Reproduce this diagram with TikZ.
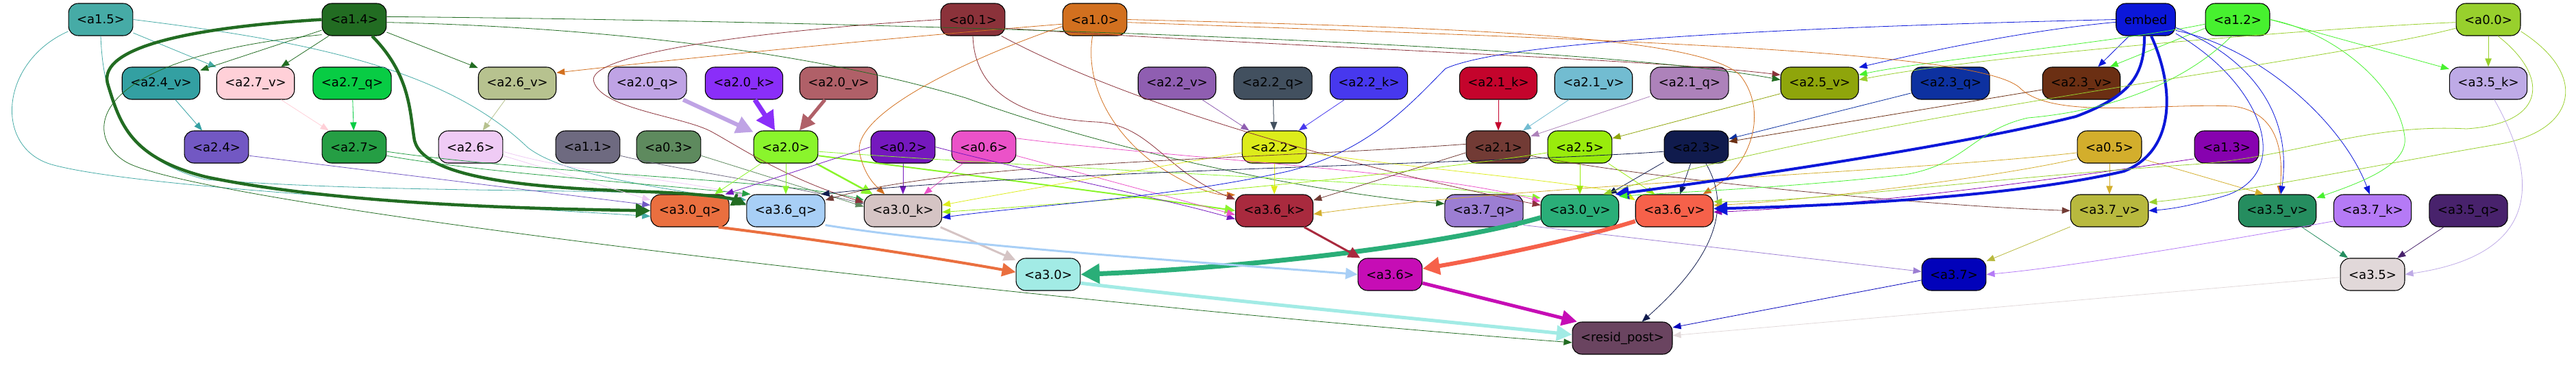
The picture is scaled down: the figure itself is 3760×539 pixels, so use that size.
\documentclass[tikz,border=0pt]{standalone}
\usepackage{fontspec}
\setmainfont{DejaVu Sans}
\usetikzlibrary{arrows.meta}
\definecolor{ca15}{HTML}{46ABA6}\definecolor{ca14}{HTML}{226C22}\definecolor{ca01}{HTML}{8B323A}
\definecolor{ca10}{HTML}{D2701F}\definecolor{cemb}{HTML}{0B17D9}\definecolor{ca12}{HTML}{47F12F}
\definecolor{ca00}{HTML}{98D02D}\definecolor{ca24v}{HTML}{33A0A2}\definecolor{ca27v}{HTML}{FFD0D8}
\definecolor{ca27q}{HTML}{08CC44}\definecolor{ca26v}{HTML}{B7C28F}\definecolor{ca20q}{HTML}{BFA3E5}
\definecolor{ca20k}{HTML}{8A2EF9}\definecolor{ca20v}{HTML}{B06068}\definecolor{ca22v}{HTML}{8F5EB1}
\definecolor{ca22q}{HTML}{42505F}\definecolor{ca22k}{HTML}{4738EE}\definecolor{ca21k}{HTML}{C4042C}
\definecolor{ca21v}{HTML}{72BCD1}\definecolor{ca21q}{HTML}{AD82BA}\definecolor{ca25v}{HTML}{8FA50B}
\definecolor{ca23q}{HTML}{0D31A0}\definecolor{ca23v}{HTML}{6B2F13}\definecolor{ca35k}{HTML}{BEAAE6}
\definecolor{ca24}{HTML}{7258C3}\definecolor{ca27}{HTML}{259E44}\definecolor{ca26}{HTML}{EFCBF5}
\definecolor{ca11}{HTML}{6E6A80}\definecolor{ca03}{HTML}{5E8A5E}\definecolor{ca20}{HTML}{8AF52C}
\definecolor{ca02}{HTML}{7518BE}\definecolor{ca06}{HTML}{EB52C8}\definecolor{ca22}{HTML}{DDEC1B}
\definecolor{ca21}{HTML}{723B35}\definecolor{ca25}{HTML}{99EC0C}\definecolor{ca23}{HTML}{101B4D}
\definecolor{ca05}{HTML}{D3AE2C}\definecolor{ca13}{HTML}{8702AF}\definecolor{ca30q}{HTML}{EA6F3F}
\definecolor{ca36q}{HTML}{A8CFF6}\definecolor{ca30k}{HTML}{D5C4C4}\definecolor{ca36k}{HTML}{A92A3E}
\definecolor{ca37q}{HTML}{9C7ED3}\definecolor{ca30v}{HTML}{2AAE78}\definecolor{ca36v}{HTML}{F6614A}
\definecolor{ca37v}{HTML}{B8B93E}\definecolor{ca35v}{HTML}{258D5F}\definecolor{ca37k}{HTML}{B57AF6}
\definecolor{ca35q}{HTML}{48226C}\definecolor{ca30}{HTML}{A2EBE5}\definecolor{ca36}{HTML}{C60DB5}
\definecolor{ca37}{HTML}{0202BA}\definecolor{ca35}{HTML}{E1D8D9}\definecolor{crp}{HTML}{6A4460}
\tikzset{
 nd/.style={draw=black, line width=1.1pt, rounded corners=14pt, minimum height=47pt,
   inner xsep=12pt, inner ysep=0pt, font=\fontsize{18}{20}\selectfont, text=black},
 ed/.style={draw=#1, line width=0.8pt, -{Triangle[length=10pt 2.5, width=7pt 3]}},
}
\begin{document}
\begin{tikzpicture}[x=1pt,y=-1pt]
\useasboundingbox (0,0) rectangle (3760,539);
% row 1
\node[nd,fill=ca15] (a15) at (147,28.5) {<a1.5>};
\node[nd,fill=ca14] (a14) at (517,28.5) {<a1.4>};
\node[nd,fill=ca01] (a01) at (1420,28.5) {<a0.1>};
\node[nd,fill=ca10] (a10) at (1598,28.5) {<a1.0>};
\node[nd,fill=cemb] (emb) at (3132,28.5) {embed};
\node[nd,fill=ca12] (a12) at (3266,28.5) {<a1.2>};
\node[nd,fill=ca00] (a00) at (3632,28.5) {<a0.0>};
% row 2
\node[nd,fill=ca24v] (a24v) at (235,121.5) {<a2.4\_v>};
\node[nd,fill=ca27v] (a27v) at (373,121.5) {<a2.7\_v>};
\node[nd,fill=ca27q] (a27q) at (514,121.5) {<a2.7\_q>};
\node[nd,fill=ca26v] (a26v) at (755,121.5) {<a2.6\_v>};
\node[nd,fill=ca20q] (a20q) at (945,121.5) {<a2.0\_q>};
\node[nd,fill=ca20k] (a20k) at (1086,121.5) {<a2.0\_k>};
\node[nd,fill=ca20v] (a20v) at (1224,121.5) {<a2.0\_v>};
\node[nd,fill=ca22v] (a22v) at (1718,121.5) {<a2.2\_v>};
\node[nd,fill=ca22q] (a22q) at (1858,121.5) {<a2.2\_q>};
\node[nd,fill=ca22k] (a22k) at (1998,121.5) {<a2.2\_k>};
\node[nd,fill=ca21k] (a21k) at (2187,121.5) {<a2.1\_k>};
\node[nd,fill=ca21v] (a21v) at (2326,121.5) {<a2.1\_v>};
\node[nd,fill=ca21q] (a21q) at (2466,121.5) {<a2.1\_q>};
\node[nd,fill=ca25v] (a25v) at (2656,121.5) {<a2.5\_v>};
\node[nd,fill=ca23q] (a23q) at (2847,121.5) {<a2.3\_q>};
\node[nd,fill=ca23v] (a23v) at (3038,121.5) {<a2.3\_v>};
\node[nd,fill=ca35k] (a35k) at (3632,121.5) {<a3.5\_k>};
% row 3
\node[nd,fill=ca24] (a24) at (316,214.5) {<a2.4>};
\node[nd,fill=ca27] (a27) at (517,214.5) {<a2.7>};
\node[nd,fill=ca26] (a26) at (687,214.5) {<a2.6>};
\node[nd,fill=ca11] (a11) at (858,214.5) {<a1.1>};
\node[nd,fill=ca03] (a03) at (976,214.5) {<a0.3>};
\node[nd,fill=ca20] (a20) at (1147,214.5) {<a2.0>};
\node[nd,fill=ca02] (a02) at (1318,214.5) {<a0.2>};
\node[nd,fill=ca06] (a06) at (1436,214.5) {<a0.6>};
\node[nd,fill=ca22] (a22) at (1860,214.5) {<a2.2>};
\node[nd,fill=ca21] (a21) at (2187,214.5) {<a2.1>};
\node[nd,fill=ca25] (a25) at (2306,214.5) {<a2.5>};
\node[nd,fill=ca23] (a23) at (2476,214.5) {<a2.3>};
\node[nd,fill=ca05] (a05) at (3079,214.5) {<a0.5>};
\node[nd,fill=ca13] (a13) at (3250,214.5) {<a1.3>};
% row 4
\node[nd,fill=ca30q] (a30q) at (1007,307.5) {<a3.0\_q>};
\node[nd,fill=ca36q] (a36q) at (1147,307.5) {<a3.6\_q>};
\node[nd,fill=ca30k] (a30k) at (1318,307.5) {<a3.0\_k>};
\node[nd,fill=ca36k] (a36k) at (1860,307.5) {<a3.6\_k>};
\node[nd,fill=ca37q] (a37q) at (2166,307.5) {<a3.7\_q>};
\node[nd,fill=ca30v] (a30v) at (2306,307.5) {<a3.0\_v>};
\node[nd,fill=ca36v] (a36v) at (2444,307.5) {<a3.6\_v>};
\node[nd,fill=ca37v] (a37v) at (3079,307.5) {<a3.7\_v>};
\node[nd,fill=ca35v] (a35v) at (3324,307.5) {<a3.5\_v>};
\node[nd,fill=ca37k] (a37k) at (3463,307.5) {<a3.7\_k>};
\node[nd,fill=ca35q] (a35q) at (3603,307.5) {<a3.5\_q>};
% row 5
\node[nd,fill=ca30] (a30) at (1530,400.5) {<a3.0>};
\node[nd,fill=ca36] (a36) at (2029,400.5) {<a3.6>};
\node[nd,fill=ca37] (a37) at (2852,400.5) {<a3.7>};
\node[nd,fill=ca35] (a35) at (3463,400.5) {<a3.5>};
% row 6
\node[nd,fill=crp] (rp) at (2368,493.5) {<resid\_post>};

% ---- row1 -> row2
\draw[ed=ca15] (a15) -- (a27v);
\draw[ed=ca14] (a14) -- (a24v);
\draw[ed=ca14] (a14) -- (a27v);
\draw[ed=ca14] (a14) -- (a26v);
\draw[ed=ca10] (a10.188) .. controls (1300,55) and (1000,85) .. (a26v.15);
\draw[ed=ca01] (a01.345) .. controls (1900,70) and (2400,85) .. (a25v.168);
\draw[ed=ca14] (a14.5) .. controls (1200,30) and (2300,60) .. (a25v.175);
\draw[ed=cemb] (emb) -- (a23v);
\draw[ed=ca12] (a12.195) -- (a23v.30);
\draw[ed=cemb] (emb.185) .. controls (2950,45) and (2800,78) .. (a25v.22);
\draw[ed=ca12] (a12.188) .. controls (3100,60) and (2800,90) .. (a25v.12);
\draw[ed=ca00] (a00.185) .. controls (3400,40) and (2900,80) .. (a25v.5);
\draw[ed=ca12] (a12.east) -- (a35k.160);
\draw[ed=ca00] (a00) -- (a35k);
% ---- row2 -> row3
\draw[ed=ca24v] (a24v) -- (a24);
\draw[ed=ca27v] (a27v) -- (a27);
\draw[ed=ca27q] (a27q) -- (a27);
\draw[ed=ca26v] (a26v) -- (a26);
\draw[ed=ca20q, line width=6pt] (a20q) -- (a20);
\draw[ed=ca20k, line width=7pt] (a20k) -- (a20);
\draw[ed=ca20v, line width=5pt] (a20v) -- (a20);
\draw[ed=ca22v] (a22v) -- (a22);
\draw[ed=ca22q, line width=1pt] (a22q) -- (a22);
\draw[ed=ca22k] (a22k) -- (a22);
\draw[ed=ca21k] (a21k) -- (a21);
\draw[ed=ca21v] (a21v) -- (a21);
\draw[ed=ca21q] (a21q) -- (a21);
\draw[ed=ca25v] (a25v) -- (a25);
\draw[ed=ca23q] (a23q) -- (a23);
\draw[ed=ca23v] (a23v) -- (a23);
% ---- into row 4 (left group)
\draw[ed=ca15] (a15.200) .. controls (0,90) and (-10,215) .. (75,240) .. controls (200,275) and (700,300) .. (a30q.188);
\draw[ed=ca15] (a15.south) .. controls (150,130) and (170,230) .. (300,262) .. controls (600,285) and (950,272) .. (a36q.165);
\draw[ed=ca15] (a15.east) .. controls (450,60) and (650,100) .. (770,215) .. controls (830,262) and (1000,276) .. (a36q.170);
\draw[ed=ca14, line width=4.5pt] (a14.west) .. controls (250,42) and (140,75) .. (158,125) .. controls (175,180) and (190,230) .. (300,258) .. controls (500,300) and (800,305) .. (a30q.180);
\draw[ed=ca14, line width=4.5pt] ([xshift=26pt]a14.south) .. controls (600,110) and (598,165) .. (605,205) .. controls (620,265) and (800,275) .. (950,280) .. controls (1030,283) and (1070,290) .. (a36q.172);
\draw[ed=ca14] (a14.205) .. controls (120,85) and (120,200) .. (185,237) .. controls (300,300) and (1500,440) .. (rp.185);
\draw[ed=ca14] (a14.355) .. controls (900,40) and (1200,80) .. (1410,143) .. controls (1650,230) and (1950,285) .. (a37q.170);
\draw[ed=ca24] (a24.345) -- (a30q.172);
\draw[ed=ca26] (a26.345) -- (a30q.165);
\draw[ed=ca26] (a26.352) .. controls (850,255) and (1000,262) .. (a36q.160);
\draw[ed=ca27] (a27.345) .. controls (700,252) and (950,268) .. (a36q.155);
\draw[ed=ca27] (a27.352) .. controls (800,255) and (1150,262) .. (a30k.165);
\draw[ed=ca11] (a11.345) .. controls (1000,250) and (1150,270) .. (a30k.170);
\draw[ed=ca03] (a03.345) -- (a30k.174);
\draw[ed=ca01] (a01.west) .. controls (1100,45) and (850,80) .. (867,120) .. controls (880,160) and (1000,170) .. (1040,193) .. controls (1080,215) and (1150,262) .. (a30k.168);
\draw[ed=ca20] (a20) -- (a30q);
\draw[ed=ca20] (a20) -- (a36q);
\draw[ed=ca20, line width=2.5pt] (a20) -- (a30k);
\draw[ed=ca20, line width=2pt] (a20.345) .. controls (1450,260) and (1700,292) .. (a36k.180);
\draw[ed=ca20] (a20.352) .. controls (1600,250) and (2100,268) .. (a30v.162);
\draw[ed=ca02] (a02) -- (a30k);
\draw[ed=ca02] (a02.west) -- (a30q.25);
\draw[ed=ca02] (a02.east) .. controls (1500,250) and (1700,290) .. (a36k.192);
\draw[ed=ca06] (a06) -- (a30k);
\draw[ed=ca06] (a06.345) -- (a36k.186);
\draw[ed=ca06] (a06.15) .. controls (1700,230) and (2100,250) .. (a30v.167);
\draw[ed=ca10] (a10.192) .. controls (1400,90) and (1240,170) .. (1255,225) .. controls (1262,255) and (1275,268) .. (a30k.138);
\draw[ed=ca10] (a10.262) .. controls (1585,110) and (1610,180) .. (1680,235) .. controls (1730,270) and (1770,285) .. (a36k.158);
\draw[ed=ca10] (a10.east) .. controls (2100,40) and (2480,50) .. (2540,110) .. controls (2580,160) and (2560,240) .. (a36v.30);
\draw[ed=ca10] (a10.355) .. controls (2400,60) and (2900,75) .. (2950,130) .. controls (3000,175) and (3150,150) .. (3260,155) .. controls (3330,165) and (3332,230) .. (a35v.82);
\draw[ed=ca01] (a01.south) .. controls (1422,120) and (1470,172) .. (1600,178) .. controls (1680,182) and (1700,250) .. (a36k.164);
\draw[ed=ca01] (a01.330) .. controls (1700,180) and (2100,270) .. (a30v.172);
% ---- middle group
\draw[ed=ca22] (a22) -- (a36k);
\draw[ed=ca22] (a22.190) .. controls (1650,250) and (1450,285) .. (a30k.8);
\draw[ed=ca22] (a22.350) .. controls (2100,250) and (2350,270) .. (a36v.165);
\draw[ed=ca21] (a21.175) .. controls (1800,235) and (1400,235) .. (a36q.15);
\draw[ed=ca21] (a21.190) -- (a36k.15);
\draw[ed=ca21] (a21.345) .. controls (2400,260) and (2800,300) .. (a37v.west);
\draw[ed=ca25] (a25) -- (a30v);
\draw[ed=ca25] (a25.330) -- (a36v.140);
\draw[ed=ca25] (a25.190) .. controls (2000,262) and (1600,295) .. (a30k.358);
\draw[ed=ca23] (a23) -- (a36v);
\draw[ed=ca23] (a23.205) -- (a30v.30);
\draw[ed=ca23] (a23.300) .. controls (2520,290) and (2520,360) .. (rp.40);
\draw[ed=ca23] (a23.188) .. controls (2200,238) and (1500,250) .. (a36q.25);
\draw[ed=ca05] (a05) -- (a37v);
\draw[ed=ca05] (a05.340) -- (a35v.130);
\draw[ed=ca05] (a05.190) .. controls (2800,250) and (2200,272) .. (a36k.355);
\draw[ed=ca05] (a05.200) .. controls (2900,262) and (2600,296) .. (a36v.8);
\draw[ed=ca13] (a13.200) .. controls (3000,262) and (2700,302) .. (a36v.358);
\draw[ed=cemb, line width=4pt] ([xshift=-2pt]emb.south) .. controls (3130,110) and (3110,140) .. (3030,170) .. controls (2850,215) and (2500,265) .. (a30v.25);
\draw[ed=cemb, line width=4pt] ([xshift=8pt]emb.south) .. controls (3175,130) and (3175,220) .. (3100,250) .. controls (2950,285) and (2700,300) .. (a36v.3);
\draw[ed=cemb] (emb.340) .. controls (3300,70) and (3420,180) .. (a37k.100);
\draw[ed=cemb] (emb.345) .. controls (3300,90) and (3345,180) .. (a35v.78);
\draw[ed=cemb] (emb.335) .. controls (3300,120) and (3350,250) .. (3250,285) .. controls (3200,300) and (3170,305) .. (a37v.east);
\draw[ed=cemb] (emb.180) .. controls (2600,40) and (2200,60) .. (2110,100) .. controls (2060,150) and (2000,220) .. (1880,250) .. controls (1700,290) and (1500,300) .. (a30k.350);
\draw[ed=ca12] (a12.250) .. controls (3200,110) and (3100,160) .. (2960,172) .. controls (2880,190) and (2870,240) .. (2780,255) .. controls (2600,275) and (2450,280) .. (a30v.20);
\draw[ed=ca12] (a12.east) .. controls (3400,45) and (3500,120) .. (3510,200) .. controls (3515,240) and (3450,265) .. (a35v.18);
\draw[ed=ca00] (a00.340) .. controls (3780,110) and (3760,190) .. (3650,210) .. controls (3500,235) and (3250,285) .. (a37v.12);
\draw[ed=ca00] (a00.300) .. controls (3720,110) and (3720,180) .. (3600,188) .. controls (3450,180) and (3350,230) .. (3200,240) .. controls (2900,260) and (2650,295) .. (a36v.13);
\draw[ed=ca00] (a00.195) .. controls (3400,90) and (2700,170) .. (a30v.35);
% ---- row 4 -> row 5
\draw[ed=ca30q, line width=4pt] (a30q.330) .. controls (1200,350) and (1400,382) .. (a30.176);
\draw[ed=ca30k, line width=3pt] (a30k) -- (a30);
\draw[ed=ca30v, line width=7pt] (a30v.190) .. controls (2100,360) and (1800,392) .. (a30.east);
\draw[ed=ca36q, line width=3pt] (a36q.340) .. controls (1400,360) and (1800,386) .. (a36.180);
\draw[ed=ca36k, line width=3pt] (a36k) -- (a36);
\draw[ed=ca36v, line width=6pt] (a36v.195) .. controls (2300,350) and (2150,380) .. (a36.10);
\draw[ed=ca37q] (a37q.340) -- (a37.175);
\draw[ed=ca37v] (a37v) -- (a37);
\draw[ed=ca37k] (a37k.195) .. controls (3200,360) and (3000,392) .. (a37.east);
\draw[ed=ca35v] (a35v) -- (a35);
\draw[ed=ca35q] (a35q) -- (a35);
\draw[ed=ca35k] (a35k.290) .. controls (3700,250) and (3720,370) .. (a35.east);
% ---- row 5 -> resid_post
\draw[ed=ca36, line width=5pt] (a36.345) -- (rp.160);
\draw[ed=ca30, line width=5pt] (a30.345) .. controls (1800,440) and (2100,468) .. (rp.176);
\draw[ed=ca37] (a37.190) -- (rp.12);
\draw[ed=ca35] (a35.185) -- (rp.3);
\end{tikzpicture}
\end{document}
